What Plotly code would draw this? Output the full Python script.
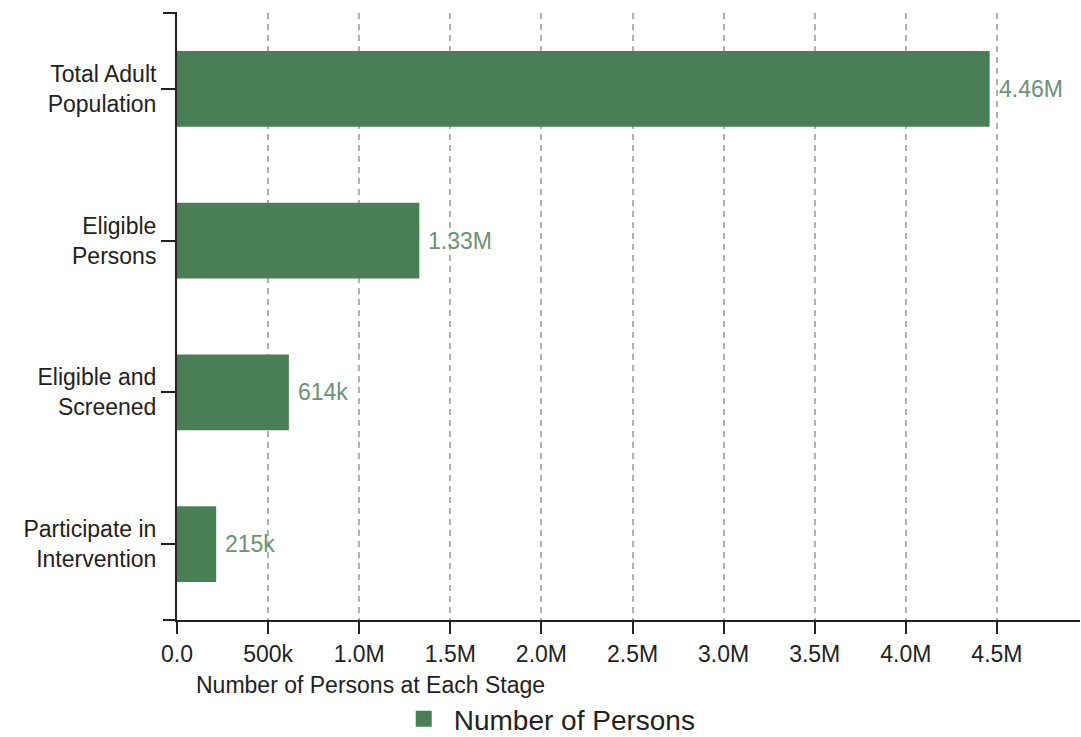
import plotly.graph_objects as go

categories = ["Total Adult<br>Population", "Eligible<br>Persons", "Eligible and<br>Screened", "Participate in<br>Intervention"]
values = [4.46e6, 1.33e6, 614e3, 215e3]
value_labels = ["4.46M", "1.33M", "614k", "215k"]
tick_vals = [0, 5e5, 1e6, 1.5e6, 2e6, 2.5e6, 3e6, 3.5e6, 4e6, 4.5e6]
tick_text = ["0.0", "500k", "1.0M", "1.5M", "2.0M", "2.5M", "3.0M", "3.5M", "4.0M", "4.5M"]
series_name = "Number of Persons"
x_title = "Number of Persons at Each Stage"

BAR = "#4a7f56"
FONT = "Liberation Sans, Arial, sans-serif"
PW = 903.0
PH = 607.0

fig = go.Figure()
fig.add_trace(go.Bar(
    y=categories, x=values, orientation="h", marker=dict(color=BAR, line=dict(width=0)),
    width=0.5, showlegend=False, hoverinfo="x+y",
))
fig.add_trace(go.Scatter(
    x=[None], y=[None], mode="markers", name=series_name,
    marker=dict(symbol="square", size=16, color=BAR), showlegend=True,
))

for c, v, t in zip(categories, values, value_labels):
    fig.add_annotation(x=v, y=c, text=t, showarrow=False, xanchor="left", xshift=7,
                       font=dict(family=FONT, size=23, color="#6e9075"))

# x-axis title, placed as in the reference
fig.add_annotation(x=(370 - 177) / PW, y=-(685 - 620) / PH, xref="paper", yref="paper",
                   text=x_title, showarrow=False, xanchor="center", yanchor="middle",
                   font=dict(family=FONT, size=23, color="#222"))

# outer ticks at top and bottom of y-axis
fig.add_shape(type="line", xref="paper", yref="paper", x0=-14 / PW, x1=0, y0=1, y1=1,
              line=dict(color="#222", width=2))
fig.add_shape(type="line", xref="paper", yref="paper", x0=-14 / PW, x1=0, y0=0, y1=0,
              line=dict(color="#222", width=2))

fig.update_layout(
    width=1081, height=737,
    margin=dict(l=177, r=1, t=13, b=117, autoexpand=False),
    plot_bgcolor="white", paper_bgcolor="white",
    font=dict(family=FONT, size=23, color="#222"),
    legend=dict(orientation="h", x=0.41, xanchor="center", xref="paper",
                y=(737 - 719) / 737, yanchor="middle", yref="container",
                font=dict(size=28, color="#222"), itemwidth=50, tracegroupgap=0),
    xaxis=dict(
        range=[0, 4.956e6], tickvals=tick_vals, ticktext=tick_text,
        showgrid=True, gridcolor="#b0b0b0", griddash="6px,5px", gridwidth=1.5,
        showline=True, linecolor="#222", linewidth=2,
        ticks="outside", ticklen=12, tickwidth=2, tickcolor="#222",
        zeroline=False,
    ),
    yaxis=dict(
        categoryorder="array", categoryarray=categories, autorange="reversed",
        showline=True, linecolor="#222", linewidth=2,
        ticks="outside", ticklen=14, tickwidth=2, tickcolor="#222",
        showgrid=False, zeroline=False,
    ),
)

fig.write_html("out.html")
